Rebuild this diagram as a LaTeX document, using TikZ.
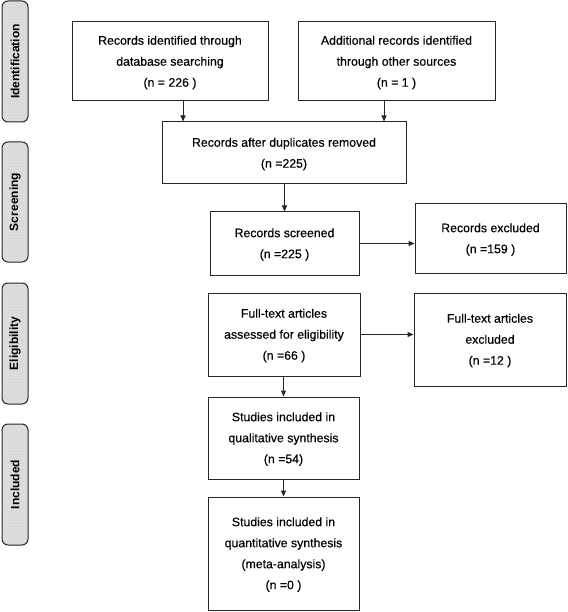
\documentclass[tikz,border=0pt]{standalone}
\usepackage{fontspec}
\setmainfont{Liberation Sans}
\newfontfamily\boxfont{Liberation Sans}[UprightFeatures={FakeBold=0.35}]
\usetikzlibrary{arrows.meta,patterns}
\newcommand{\tx}[2]{\raisebox{#1}{\begin{tabular}{@{}c@{}}#2\end{tabular}}}
\tikzset{
  box/.style={draw=black!85, line width=1pt, rectangle, align=center, inner sep=0pt,
              font=\boxfont\fontsize{12.3}{21}\selectfont},
  side/.style={draw=black!85, line width=1pt, rounded corners=6pt, rotate=90,
               preaction={fill=gray!30}, pattern=dots, pattern color=white,
               minimum height=26pt, inner sep=0pt,
               font=\fontsize{12}{14}\selectfont\bfseries},
  arr/.style={line width=1pt, draw=black!85, -{Triangle[length=6pt,width=5pt]}}
}
\begin{document}
\begin{tikzpicture}[x=1pt,y=-1pt]
\useasboundingbox (0,0) rectangle (567,612);
% side labels
\node[side, minimum width=121pt] (s1) at (15,61.5) {Identification};
\node[side, minimum width=120pt] (s2) at (15,202) {Screening};
\node[side, minimum width=121pt] (s3) at (15,343.5) {Eligibility};
\node[side, minimum width=121pt] (s4) at (15,484.5) {Included};
% boxes
\node[box, minimum width=196pt, minimum height=79pt] (b1) at (170,61.5)
  {\tx{-2pt}{Records identified through\\database searching\\(n = 226 )}};
\node[box, minimum width=197pt, minimum height=79pt] (b2) at (396.5,61.5)
  {\tx{-2pt}{Additional records identified\\through other sources\\(n = 1 )}};
\node[box, minimum width=244pt, minimum height=62pt] (b3) at (284,153)
  {\tx{-2pt}{Records after duplicates removed\\(n =225)}};
\node[box, minimum width=149pt, minimum height=63pt] (b4) at (284.5,243.5)
  {\tx{-2pt}{Records screened\\(n =225 )}};
\node[box, minimum width=151pt, minimum height=69pt] (e1) at (490.5,238.5)
  {\tx{1.5pt}{Records excluded\\(n =159 )}};
\node[box, minimum width=152pt, minimum height=83pt] (b5) at (284,334.5)
  {\tx{-2pt}{Full-text articles\\assessed for eligibility\\(n =66 )}};
\node[box, minimum width=152pt, minimum height=93pt] (e2) at (490,339.5)
  {\tx{2pt}{Full-text articles\\excluded\\(n =12 )}};
\node[box, minimum width=151pt, minimum height=82pt] (b6) at (283.5,438)
  {\tx{-2pt}{Studies included in\\qualitative synthesis\\(n =54)}};
\node[box, minimum width=151pt, minimum height=113pt] (b7) at (283.5,553.5)
  {\tx{1pt}{Studies included in\\quantitative synthesis\\(meta-analysis)\\(n =0 )}};
% connectors
\draw[arr] (b1.south -| 183,0) -- (b3.north -| 183,0);
\draw[arr] (b2.south -| 384,0) -- (b3.north -| 384,0);
\draw[arr] (b3.south -| b4.north) -- (b4.north);
\draw[arr] (b4.east) -- (b4.east -| e1.west);
\draw[arr] (b5.east) -- (b5.east -| e2.west);
\draw[arr] (b5.south -| b6.north) -- (b6.north);
\draw[arr] (b6.south) -- (b7.north);
\end{tikzpicture}
\end{document}
